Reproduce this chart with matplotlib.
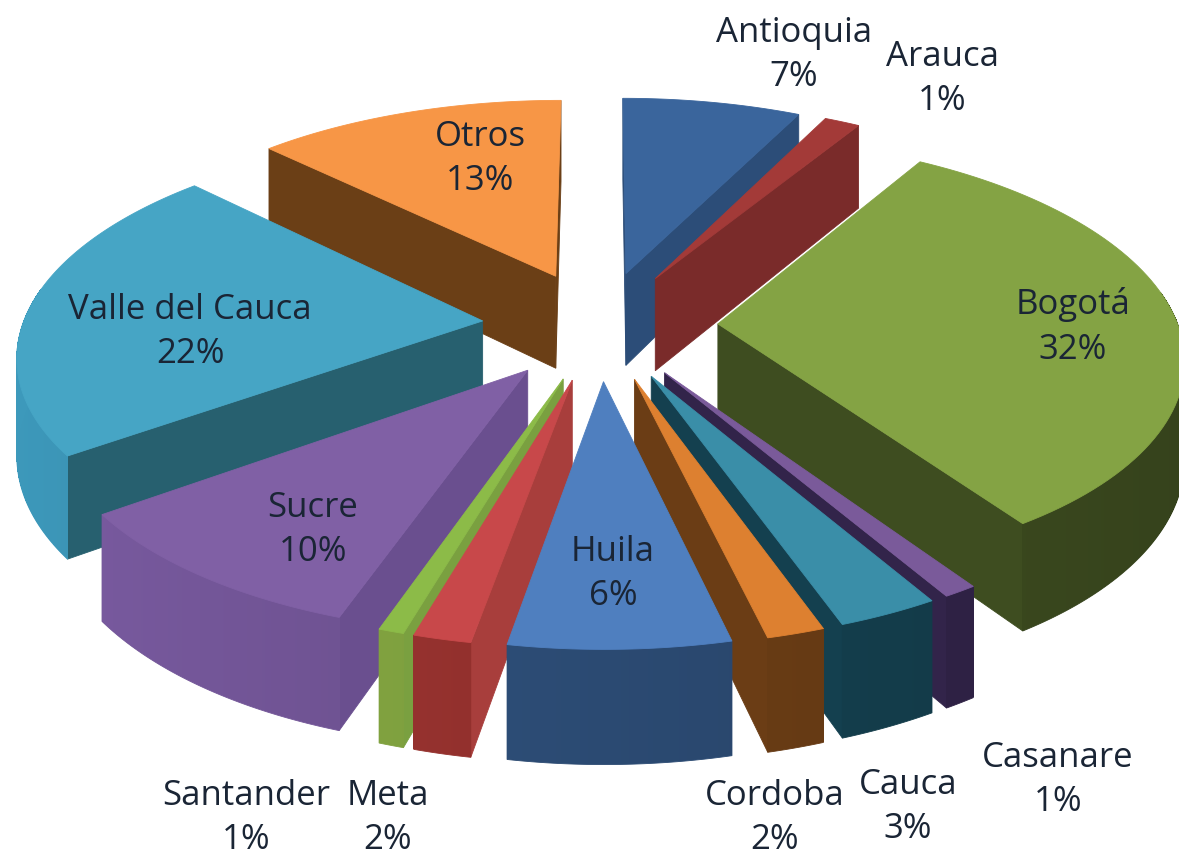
import matplotlib
matplotlib.use('Agg')
import matplotlib.pyplot as plt
import numpy as np
from matplotlib.colors import to_rgb

names = ['Antioquia', 'Arauca', 'Bogotá', 'Casanare', 'Cauca', 'Cordoba', 'Huila',
         'Meta', 'Santander', 'Sucre', 'Valle del Cauca', 'Otros']
# labels show rounded percentages, the slices are drawn from the unrounded shares
values = [7, 1, 32, 1, 3, 2, 6, 2, 1, 10, 22, 13]
shares = [7.3, 1.45, 31.85, 1.0, 3.0, 1.7, 6.49, 1.7, 0.75, 9.8, 22.3, 12.66]
top_colors = ['#3a659c', '#a33a38', '#84a344', '#7a5a9a', '#3a8ea8', '#dd8030',
              '#4f7fbf', '#c8484a', '#8cbb48', '#8060a5', '#46a5c5', '#f79646']
wall_colors = ['#2c4d78', '#7a2b2a', '#3e4d20', '#32244a', '#14404f', '#6b3d15',
               '#2f4e7a', '#a83e3c', '#7aa040', '#6a4f8f', '#27606f', '#6b3f16']
arc_colors = ['#2c4d78', '#7a2b2a', '#3e4d20', '#32244a', '#14404f', '#6b3d15',
              '#2b4a72', '#8f2f2c', '#7a9a3c', '#6a4f8c', '#3585a3', '#6b3f16']
label_pos = [(794, 55), (942, 79), (1073, 327), (1058, 780), (908, 807), (775, 818),
             (613, 574), (388, 818), (246, 818), (313, 530), (190, 332), (480, 159)]

CX, CY = 600, 325
R, EXPLODE, HEIGHT = 460, 118, 95
PERSP, TILT = 0.000303, 0.463


def project(x, y, z=0):
    s = 1 / (1 + PERSP * y)
    return CX + x * s, CY - TILT * y * s + z * s


def face(ax, xs, ys, zs_top, zs_bot, color, **kw):
    px1, py1 = project(xs, ys, zs_top)
    px2, py2 = project(xs[::-1], ys[::-1], zs_bot)
    ax.fill(np.r_[px1, px2], np.r_[py1, py2], color=color, **kw)


def shade(color, f):
    return tuple(min(1, c * f) for c in to_rgb(color))


def draw_wedge(ax, i, t1, t2):
    mid = (t1 + t2) / 2
    ox, oy = EXPLODE * np.sin(mid), EXPLODE * np.cos(mid)
    cam = np.array([-ox, -1 / PERSP - oy])

    # straight walls, only if they look at the camera
    for t, sign in ((t1, -1), (t2, 1)):
        normal = sign * np.array([np.cos(t), -np.sin(t)])
        if normal @ cam > 0:
            xs = np.array([ox, ox + R * np.sin(t)])
            ys = np.array([oy, oy + R * np.cos(t)])
            face(ax, xs, ys, 0, HEIGHT, wall_colors[i], lw=0.6)

    # outer wall: smooth base shape, then thin strips without antialiasing for the shading
    tt = np.linspace(t1, t2, max(4, int((t2 - t1) * 300)))
    front = tt[np.cos(tt) < 0.15]
    if len(front) > 1:
        face(ax, ox + R * np.sin(front), oy + R * np.cos(front), 0, HEIGHT,
             shade(arc_colors[i], 1 - 0.15 * np.sin(front.mean())), lw=0.6)
        for a, b in zip(front[:-1], front[1:]):
            xs = ox + R * np.sin(np.array([a, b]))
            ys = oy + R * np.cos(np.array([a, b]))
            f = 1 - 0.15 * np.sin((a + b) / 2)
            face(ax, xs, ys, 0, HEIGHT - 1, shade(arc_colors[i], f), lw=0, antialiased=False)

    # top
    tt = np.linspace(t1, t2, 80)
    xs = np.r_[ox, ox + R * np.sin(tt)]
    ys = np.r_[oy, oy + R * np.cos(tt)]
    px, py = project(xs, ys)
    ax.fill(px, py, color=top_colors[i], lw=0.6)


fig = plt.figure(figsize=(11.79, 8.58), dpi=100)
ax = fig.add_axes([0, 0, 1, 1])
ax.set_xlim(0, 1179)
ax.set_ylim(858, 0)
ax.axis('off')

edges = np.r_[0, np.cumsum(shares)] / np.sum(shares) * 2 * np.pi
order = np.argsort(-np.cos((edges[:-1] + edges[1:]) / 2))
for i in order:
    draw_wedge(ax, i, edges[i], edges[i + 1])

for i, name in enumerate(names):
    ax.text(label_pos[i][0], label_pos[i][1], f'{name}\n{values[i]}%', ha='center', va='center',
            fontsize=25, family='Open Sans', color='#1a2535', linespacing=1.4)

fig.savefig('out.png', dpi=100)
